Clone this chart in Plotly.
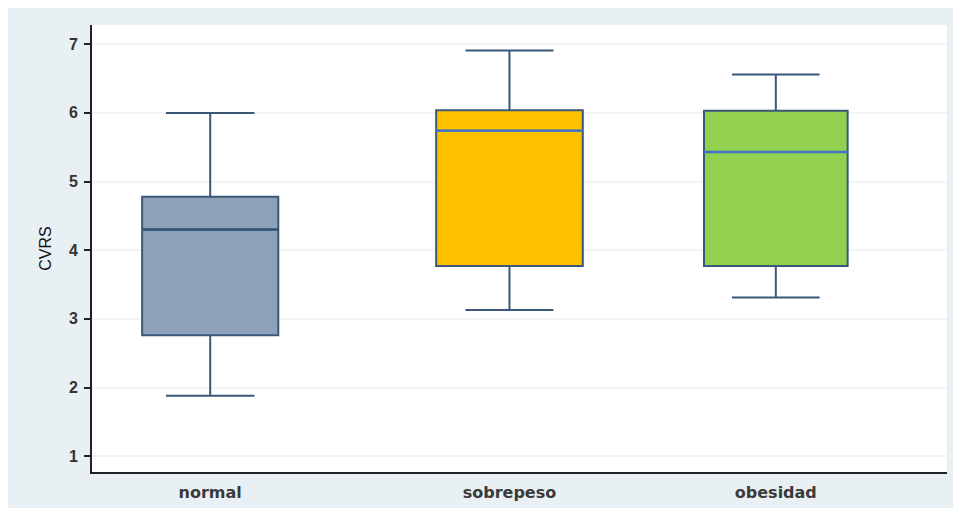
import plotly.graph_objects as go

# Summary statistics of CVRS per BMI group
groups = ["normal", "sobrepeso", "obesidad"]
lower_whisker = [1.88, 3.13, 3.31]
q1 = [2.76, 3.77, 3.77]
median = [4.30, 5.74, 5.43]
q3 = [4.78, 6.04, 6.03]
upper_whisker = [6.00, 6.91, 6.56]
y_ticks = [1, 2, 3, 4, 5, 6, 7]

# Layout / styling
x_pos = [0, 1, 1.89]
box_width = [0.455, 0.49, 0.48]
cap_ratio = [0.65, 0.6, 0.61]
fills = ["#8da2b8", "#ffc000", "#92d050"]
median_colors = ["#34557a", "#4472c4", "#4472c4"]
edge = "#3b5878"
frame_bg = "#e9f0f3"

fig = go.Figure()

for i, g in enumerate(groups):
    fig.add_trace(go.Box(
        x=[x_pos[i]],
        lowerfence=[lower_whisker[i]],
        q1=[q1[i]],
        median=[median[i]],
        q3=[q3[i]],
        upperfence=[upper_whisker[i]],
        name=g,
        width=box_width[i],
        whiskerwidth=cap_ratio[i],
        fillcolor=fills[i],
        line=dict(color=edge, width=2),
        boxpoints=False,
        hoverinfo="skip",
        showlegend=False,
    ))
    # median drawn on top in its own colour
    half = box_width[i] / 2
    fig.add_trace(go.Scatter(
        x=[x_pos[i] - half, x_pos[i] + half],
        y=[median[i], median[i]],
        mode="lines",
        line=dict(color=median_colors[i], width=2.5),
        hoverinfo="skip",
        showlegend=False,
    ))

# thin white border around the tinted graphic area
PW, PH = 855, 447
for x0, x1, y0, y1 in [
    (-92 / PW, 1 + 6 / PW, -44 / PH, -36 / PH),      # bottom strip
    (-92 / PW, 1 + 6 / PW, 1 + 17 / PH, 1 + 25 / PH),  # top strip
    (-92 / PW, -84 / PW, -44 / PH, 1 + 25 / PH),     # left strip
]:
    fig.add_shape(type="rect", xref="paper", yref="paper",
                  x0=x0, x1=x1, y0=y0, y1=y1,
                  fillcolor="white", line=dict(width=0), layer="below")

fig.update_layout(
    width=953,
    height=516,
    margin=dict(l=92, r=6, t=25, b=44),
    paper_bgcolor=frame_bg,
    plot_bgcolor="white",
    font=dict(family="Liberation Sans, Arial, sans-serif", color="#333333"),
    xaxis=dict(
        range=[-0.395, 2.462],
        tickmode="array",
        tickvals=x_pos,
        ticktext=groups,
        showgrid=False,
        zeroline=False,
        showline=True,
        linecolor="#222222",
        linewidth=2,
        ticks="",
        ticklabelstandoff=5,
        tickfont=dict(family="DejaVu Sans, Verdana, sans-serif", size=16, color="#3a3a3a", weight="bold"),
    ),
    yaxis=dict(
        range=[0.77, 7.28],
        tickmode="array",
        tickvals=y_ticks,
        showgrid=True,
        gridcolor="#f0f4f6",
        gridwidth=1.5,
        zeroline=False,
        showline=True,
        linecolor="#222222",
        linewidth=2,
        ticks="outside",
        ticklen=6,
        tickwidth=2,
        tickcolor="#222222",
        ticklabelstandoff=3,
        tickfont=dict(size=16, color="#333333", weight="bold"),
        title=dict(text="CVRS", font=dict(size=16, color="#111111"), standoff=13),
    ),
)

fig.write_html("out.html")
